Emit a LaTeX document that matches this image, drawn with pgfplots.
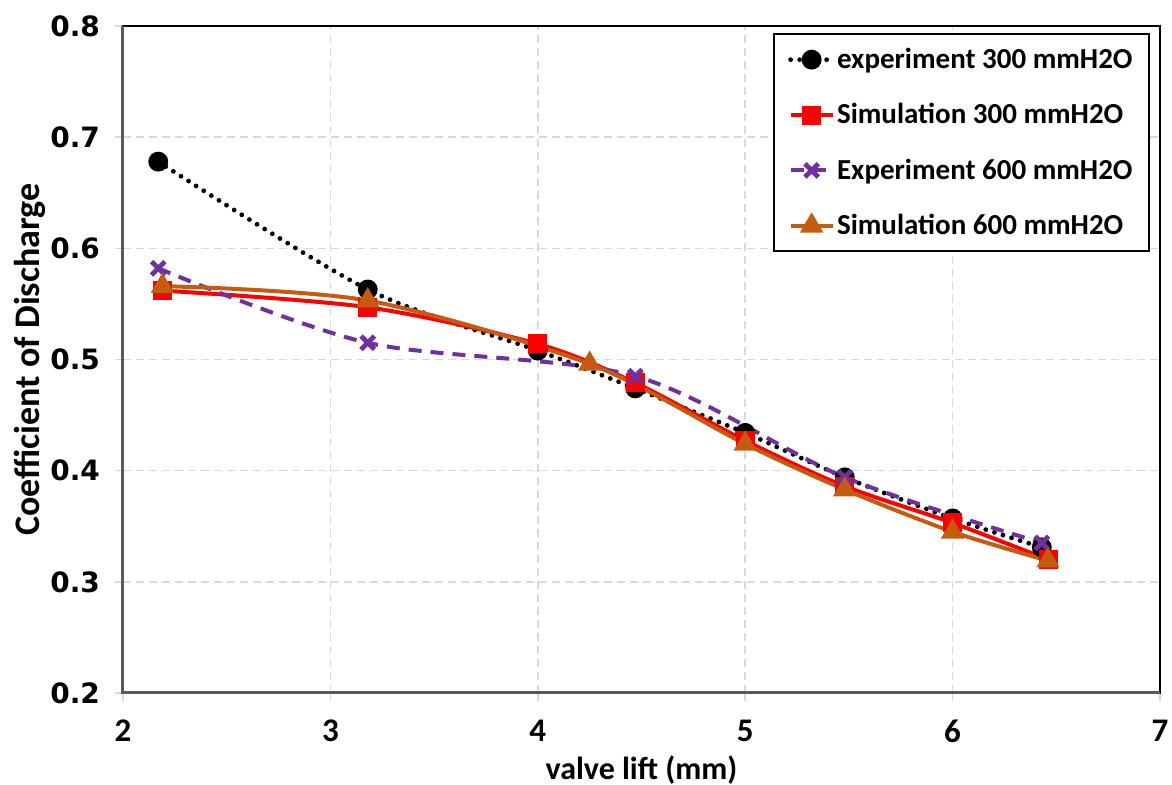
\documentclass[border=0pt]{standalone}
\usepackage{pgfplots}
\pgfplotsset{compat=1.18}
\usepackage{fontspec}
\setmainfont{Carlito}
\newfontfamily\tickfont{DejaVu Sans}

\definecolor{simred}{HTML}{FF0000}
\definecolor{exppurple}{HTML}{7030A0}
\definecolor{simorange}{HTML}{C55A11}
\definecolor{gridgray}{HTML}{D9D9D9}
\definecolor{axisgray}{HTML}{595959}

\begin{document}
\begin{tikzpicture}
\useasboundingbox (-61.5pt,-46pt) rectangle (524.5pt,346.5pt);
\begin{axis}[
    scale only axis,
    width=518.5pt, height=333.5pt,
    xmin=2, xmax=7, ymin=0.2, ymax=0.8,
    xtick={2,3,4,5,6,7},
    ytick={0.2,0.3,0.4,0.5,0.6,0.7,0.8},
    /pgf/number format/assume math mode=true,
    xticklabel style={font=\bfseries\fontsize{16.5}{19}\selectfont, yshift=-6pt},
    yticklabel style={font=\tickfont\bfseries\fontsize{14}{16}\selectfont, xshift=-4pt,
        /pgf/number format/fixed, /pgf/number format/fixed zerofill,
        /pgf/number format/precision=1},
    xtick pos=left, ytick pos=left,
    tick align=outside,
    major tick length=4pt,
    tick style={gridgray, line width=0.75pt},
    xmajorgrids, ymajorgrids,
    grid style={gridgray, line width=0.75pt, dash pattern=on 4pt off 2.5pt},
    axis line style={black, line width=1pt},
    xlabel={valve lift (mm)},
    ylabel={Coefficient of Discharge},
    xlabel style={font=\bfseries\fontsize{16}{18}\selectfont,
        at={(axis description cs:0.5,0)}, anchor=center, yshift=-38.5pt},
    ylabel style={font=\bfseries\fontsize{18}{20}\selectfont,
        at={(axis description cs:-0.0897,0.5)}, anchor=center},
    legend style={at={(0.99,0.9895)}, anchor=north east, draw=black,
        line width=1pt, font=\bfseries\fontsize{14.5}{17}\selectfont,
        row sep=12pt, inner xsep=7pt, inner ysep=5pt,
        nodes={inner xsep=1pt}},
    legend cell align=left,
    legend image code/.code={\draw[mark repeat=2, mark phase=2, #1]
        plot coordinates {(0pt,0pt) (10.5pt,0pt) (21pt,0pt)};},
    after end axis/.code={
        \draw[axisgray, line width=1.5pt] (rel axis cs:0,1) -- (rel axis cs:0,0) -- (rel axis cs:1,0);
    },
]
\addplot[black, line width=2.4pt, line cap=round, dash pattern=on 0pt off 4.5pt, smooth,
    mark=*, mark size=3.75pt, mark options={solid, fill=black}]
    coordinates {(2.17,0.678) (3.18,0.563) (4.0,0.508) (4.47,0.474) (5.0,0.434) (5.48,0.394) (6.0,0.357) (6.43,0.331)};
\addlegendentry{experiment 300 mmH2O}

\addplot[simred, line width=2pt, smooth,
    mark=square*, mark size=3.75pt, mark options={solid, fill=simred}]
    coordinates {(2.19,0.562) (3.18,0.547) (4.0,0.514) (4.47,0.479) (5.0,0.427) (5.48,0.386) (6.0,0.353) (6.46,0.320)};
\addlegendentry{Simulation 300 mmH2O}

\addplot[exppurple, line width=2pt, dash pattern=on 6.5pt off 4.5pt, smooth,
    mark=x, mark size=4.75pt, mark options={solid, line width=2.4pt}]
    coordinates {(2.17,0.582) (3.18,0.515) (4.47,0.485) (5.48,0.394) (6.43,0.335)};
\addlegendentry{Experiment 600 mmH2O}

\addplot[simorange, line width=2pt, smooth,
    mark=triangle*, mark size=4.75pt, mark options={solid, fill=simorange}]
    coordinates {(2.19,0.566) (3.18,0.553) (4.25,0.496) (5.0,0.424) (5.48,0.383) (6.0,0.345) (6.46,0.319)};
\addlegendentry{Simulation 600 mmH2O}
\end{axis}
\end{tikzpicture}
\end{document}
